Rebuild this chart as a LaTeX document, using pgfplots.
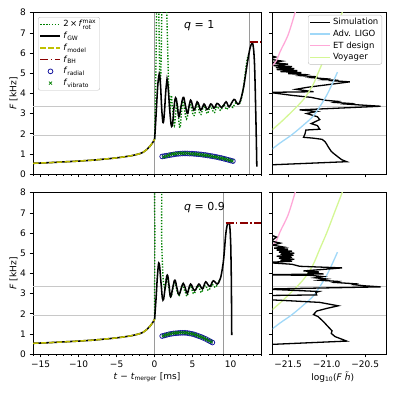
\documentclass[border=0pt]{standalone}
\usepackage{fontspec}
\setmainfont{DejaVu Sans}
\usepackage{pgfplots}
\pgfplotsset{compat=1.18}
\definecolor{fgreen}{HTML}{008000}
\definecolor{fyellow}{HTML}{BFBF00}
\definecolor{fred}{HTML}{8B0000}
\definecolor{fblue}{HTML}{1A1AA0}
\definecolor{ligo}{HTML}{A0D8F8}
\definecolor{etc}{HTML}{FFA8D8}
\definecolor{voy}{HTML}{D4F794}
\definecolor{hline}{HTML}{C8C8C8}
\definecolor{vline}{HTML}{9A9A9A}
\newcommand{\sub}[1]{$_{\mbox{\fontsize{6}{6}\selectfont #1}}$}
\pgfplotsset{
 mybase/.style={scale only axis, tick align=outside, tick pos=left,
  major tick length=3.5pt, minor tick length=2pt,
  every tick/.style={black, line width=0.6pt},
  ymin=0, ymax=8, ytick={0,...,8},
  tick label style={font=\fontsize{9}{10}\selectfont},
  axis line style={line width=0.7pt},
  legend image code/.code={\draw[mark repeat=2,mark phase=2,#1] plot coordinates {(0pt,0pt) (10pt,0pt) (20pt,0pt)};},
  legend cell align=left,
  legend style={font=\fontsize{8.5}{10}\selectfont, draw=black!25, rounded corners=2pt, inner sep=1.5pt, row sep=0.6pt, nodes={inner ysep=1.6pt}},
  every axis y label/.style={at={(axis description cs:-0.0855,0.5)},rotate=90,anchor=center,font=\fontsize{9}{10}\selectfont},
 },
 leftax/.style={mybase, width=228pt, height=161.3pt, xmin=-16, xmax=14,
  xtick={-15,-10,-5,0,5,10}, minor xtick={-16,-15,...,14},
  yticklabels={0,1,2,3,4,5,6,7,8}, ylabel={\textit{F} [kHz]}},
 rightax/.style={mybase, width=113.3pt, height=161.3pt, xmin=-21.7, xmax=-20.23,
  xtick={-21.5,-21,-20.5}, yticklabels={}},
 gdot/.style={fgreen, line width=1.4pt, dash pattern=on 1.3pt off 1.6pt},
 bl/.style={black, line width=1.55pt},
 ydash/.style={fyellow, line width=1.5pt, dash pattern=on 5.5pt off 2.4pt},
 rdd/.style={fred, line width=1.5pt, dash pattern=on 8pt off 2.4pt on 1.5pt off 2.4pt},
 sens/.style={line width=1.3pt, smooth},
}
\pgfplotstableread{
t F
-16 0.53
-14 0.56
-12 0.60
-10 0.64
-8 0.69
-6 0.76
-5 0.80
-4 0.85
-3 0.91
-2 1.00
-1.5 1.08
-1 1.22
-0.6 1.38
-0.3 1.53
0 1.72
}\inspiral
\begin{document}
\begin{tikzpicture}
\path[use as bounding box] (0,0) rectangle (395pt,395pt);
% ---------------- top left
\begin{axis}[leftax, at={(33pt,221pt)}, anchor=south west, xticklabels={},
 legend style={at={(0.022,0.973)},anchor=north west}]
\addplot[forget plot, hline, line width=1pt] coordinates {(-16,3.33) (14,3.33)};
\addplot[forget plot, hline, line width=1pt] coordinates {(-16,1.92) (14,1.92)};
\addplot[forget plot, vline, line width=0.9pt] coordinates {(0,0) (0,8)};
\addplot[forget plot, vline, line width=0.9pt] coordinates {(12.5,0) (12.5,8)};
\addplot[gdot, smooth, tension=0.7] coordinates {(0,1.72)(0.1,3.5)(0.2,6)(0.3,9)(0.45,9)(0.55,8)(0.65,5.5)(0.75,4.6)(0.85,5.5)(0.95,8)(1.05,9)(1.5,9)(1.6,8)(1.7,6.5)(1.8,5)(1.9,3.8)(2.0,3.2)(2.1,3.5)(2.2,3.9)(2.3,3.5)(2.45,2.9)(2.6,2.4)(2.75,2.9)(2.9,3.5)(3.05,3.3)(3.2,2.6)(3.35,2.3)(3.5,2.9)(3.7,3.6)(3.9,3.3)(4.1,2.8)(4.3,2.8)(4.5,3.3)(4.7,3.5)(4.9,3.2)(5.1,2.9)(5.3,3.0)(5.5,3.4)(5.7,3.4)(5.9,3.05)(6.1,2.95)(6.3,3.2)(6.5,3.4)(6.7,3.2)(6.9,3.0)(7.1,3.1)(7.3,3.35)(7.5,3.3)(7.7,3.1)(7.9,3.05)(8.1,3.3)(8.3,3.35)(8.5,3.2)(8.7,3.15)(8.9,3.3)(9.1,3.45)(9.3,3.3)(9.5,3.2)(9.7,3.35)(9.9,3.45)(10.1,3.35)(10.3,3.3)(10.5,3.45)(10.7,3.55)(10.9,3.5)(11.1,3.45)(11.3,3.6)(11.5,3.9)(11.7,4.3)(11.9,4.9)(12.1,5.5)(12.3,5.9)};
\addlegendentry{2\,×\,\textit{f}$^{\mbox{\fontsize{6}{6}\selectfont max}}_{\mbox{\fontsize{6}{6}\selectfont rot}}$}
\addplot[bl] table[x=t,y=F] {\inspiral};
\addlegendentry{\textit{f}\sub{GW}}
\addplot[bl, smooth, tension=0.8, forget plot] coordinates {(0,1.72)(0.1,2.3)(0.25,3.3)(0.4,4.3)(0.55,4.85)(0.66,4.9)(0.78,4.4)(0.9,3.5)(1.0,2.9)(1.14,2.55)(1.3,3.1)(1.45,4.0)(1.6,4.6)(1.67,4.65)(1.8,4.2)(1.95,3.4)(2.1,2.7)(2.24,2.36)(2.4,2.6)(2.55,3.3)(2.76,3.78)(2.95,3.5)(3.2,2.84)(3.45,3.3)(3.77,3.8)(4.0,3.5)(4.3,3.0)(4.5,3.3)(4.74,3.66)(4.95,3.45)(5.17,3.17)(5.4,3.35)(5.6,3.58)(5.85,3.4)(6.05,3.17)(6.3,3.3)(6.5,3.47)(6.7,3.35)(6.9,3.2)(7.15,3.3)(7.37,3.47)(7.6,3.4)(7.8,3.27)(8.0,3.35)(8.2,3.5)(8.5,3.42)(8.8,3.3)(9.1,3.42)(9.4,3.58)(9.6,3.45)(9.8,3.33)(10.1,3.5)(10.45,3.7)(10.7,3.6)(10.97,3.46)(11.25,3.6)(11.54,4.0)(11.8,4.5)(12.0,5.0)(12.2,5.5)(12.4,5.95)(12.6,6.3)(12.8,6.47)(12.95,6.4)(13.1,5.8)(13.2,4.8)(13.3,3.2)(13.38,1.8)(13.45,0.36)};
\addplot[ydash] table[x=t,y=F] {\inspiral};
\addlegendentry{\textit{f}\sub{model}}
\addplot[rdd] coordinates {(12.5,6.55) (14,6.55)};
\addlegendentry{\textit{f}\sub{BH}}
\addplot[only marks, mark=o, mark size=2.4pt, fblue, mark options={line width=0.8pt}] coordinates {(1.0,0.87)(1.3,0.89)(1.6,0.91)(1.9,0.93)(2.2,0.95)(2.5,0.97)(2.8,0.99)(3.1,1.0)(3.4,1.01)(3.7,1.02)(4.0,1.02)(4.3,1.02)(4.6,1.01)(4.9,1.01)(5.2,1.0)(5.5,0.99)(5.8,0.98)(6.1,0.97)(6.4,0.95)(6.7,0.94)(7.0,0.92)(7.3,0.9)(7.6,0.88)(7.9,0.86)(8.2,0.84)(8.5,0.81)(8.8,0.79)(9.1,0.76)(9.4,0.73)(9.7,0.7)(10.0,0.67)(10.3,0.64)};
\addlegendentry{\textit{f}\sub{radial}}
\addplot[only marks, mark=x, mark size=2.2pt, fgreen, mark options={line width=0.7pt}] coordinates {(1.2,0.85)(1.5,0.88)(1.8,0.93)(2.1,0.96)(2.4,0.99)(2.7,1.0)(3.0,1.02)(3.3,1.03)(3.6,1.03)(3.9,1.02)(4.2,1.03)(4.5,1.02)(4.8,1.0)(5.1,1.0)(5.4,0.99)(5.7,0.98)(6.0,0.96)(6.3,0.95)(6.6,0.93)(6.9,0.92)(7.2,0.9)(7.5,0.88)(7.8,0.86)(8.1,0.84)(8.4,0.82)(8.7,0.79)(9.0,0.77)(9.3,0.74)(9.6,0.71)(9.9,0.68)(10.2,0.65)};
\addlegendentry{\textit{f}\sub{vibrato}}
\node[anchor=west, font=\fontsize{11}{12}\selectfont] at (axis cs:3.42,7.38) {\textit{q} = 1};
\end{axis}
% ---------------- bottom left
\begin{axis}[leftax, at={(33pt,41pt)}, anchor=south west,
 xticklabels={−15,−10,−5,0,5,10},
 xlabel={\textit{t} − \textit{t}\sub{merger} [ms]},
 every axis x label/.style={at={(axis description cs:0.5,-0.143)},anchor=center,font=\fontsize{9}{10}\selectfont}]
\addplot[forget plot, hline, line width=1pt] coordinates {(-16,3.33) (14,3.33)};
\addplot[forget plot, hline, line width=1pt] coordinates {(-16,1.92) (14,1.92)};
\addplot[forget plot, vline, line width=0.9pt] coordinates {(0,0) (0,8)};
\addplot[forget plot, vline, line width=0.9pt] coordinates {(9.1,0) (9.1,8)};
\addplot[gdot, smooth, tension=0.7] coordinates {(0,1.72)(0.03,5.6)(0.08,9)(0.85,9)(0.92,6.0)(0.98,5.0)(1.05,4.3)(1.15,3.6)(1.3,3.3)(1.45,3.5)(1.6,3.85)(1.8,3.5)(2.0,3.0)(2.15,2.85)(2.35,3.1)(2.6,3.6)(2.85,3.3)(3.05,3.0)(3.25,2.9)(3.45,3.2)(3.7,3.45)(3.9,3.2)(4.1,3.0)(4.3,2.87)(4.5,3.2)(4.7,3.4)(4.9,3.2)(5.1,3.0)(5.3,3.05)(5.55,3.35)(5.8,3.35)(6.0,3.15)(6.2,3.05)(6.45,3.3)(6.7,3.4)(6.9,3.25)(7.1,3.15)(7.35,3.3)(7.6,3.45)(7.8,3.35)(8.0,3.3)(8.2,3.4)(8.4,3.55)(8.55,3.7)};
\addplot[bl] table[x=t,y=F] {\inspiral};
\addplot[bl, smooth, tension=0.8] coordinates {(0,1.72)(0.2,2.8)(0.4,4.0)(0.6,4.49)(0.85,3.5)(1.1,2.67)(1.4,3.3)(1.67,3.91)(1.9,3.4)(2.1,2.84)(2.4,3.3)(2.67,3.66)(2.95,3.25)(3.2,2.95)(3.5,3.25)(3.77,3.5)(4.05,3.25)(4.3,3.0)(4.5,3.25)(4.74,3.47)(5.0,3.3)(5.26,3.14)(5.55,3.3)(5.83,3.47)(6.05,3.35)(6.3,3.23)(6.5,3.4)(6.73,3.58)(7.0,3.45)(7.3,3.35)(7.5,3.5)(7.72,3.63)(8.0,3.55)(8.25,3.47)(8.5,3.6)(8.7,3.8)(8.9,4.2)(9.04,4.55)(9.2,5.2)(9.34,5.85)(9.5,6.3)(9.65,6.5)(9.8,6.45)(9.9,6.3)(10.0,5.6)(10.05,4.8)(10.1,3.5)(10.13,2.0)(10.15,0.94)};
\addplot[ydash] table[x=t,y=F] {\inspiral};
\addplot[rdd] coordinates {(9.34,6.5) (14,6.5)};
\addplot[only marks, mark=o, mark size=2.4pt, fblue, mark options={line width=0.8pt}] coordinates {(1.0,0.89)(1.3,0.92)(1.6,0.95)(1.9,0.98)(2.2,1.0)(2.5,1.02)(2.8,1.03)(3.1,1.04)(3.4,1.05)(3.7,1.05)(4.0,1.05)(4.3,1.04)(4.6,1.02)(4.9,1.0)(5.2,0.97)(5.5,0.93)(5.8,0.89)(6.1,0.85)(6.4,0.8)(6.7,0.75)(7.0,0.69)(7.3,0.63)(7.6,0.57)};
\addplot[only marks, mark=x, mark size=2.2pt, fgreen, mark options={line width=0.7pt}] coordinates {(1.15,0.9)(1.45,0.94)(1.75,0.97)(2.05,1.0)(2.35,1.02)(2.65,1.04)(2.95,1.05)(3.25,1.06)(3.55,1.06)(3.85,1.06)(4.15,1.05)(4.45,1.03)(4.75,1.01)(5.05,0.99)(5.35,0.95)(5.65,0.91)(5.95,0.87)(6.25,0.83)(6.55,0.78)(6.85,0.72)(7.15,0.66)(7.45,0.6)};
\node[anchor=west, font=\fontsize{11}{12}\selectfont] at (axis cs:3.42,7.28) {\textit{q} = 0.9};
\end{axis}
% ---------------- top right
\begin{axis}[rightax, at={(272.7pt,221pt)}, anchor=south west, xticklabels={},
 legend style={at={(0.965,0.986)},anchor=north east}]
\addplot[forget plot, hline, line width=1pt] coordinates {(-21.7,3.33) (-20.23,3.33)};
\addplot[forget plot, hline, line width=1pt] coordinates {(-21.7,1.92) (-20.23,1.92)};
\addplot[black, line width=1.3pt] coordinates {(-21.75,0.45)(-20.74,0.61)(-20.80,0.7)(-20.83,0.78)(-20.87,0.9)(-20.91,1.02)(-20.94,1.12)(-20.98,1.35)(-21.0,1.48)(-21.02,1.6)(-21.06,1.72)(-21.18,1.78)(-21.30,1.82)(-21.28,2.0)(-21.27,2.18)(-21.09,2.22)(-21.12,2.4)(-21.20,2.5)(-21.09,2.7)(-21.12,2.84)(-21.26,3.0)(-21.13,3.1)(-21.35,3.18)(-20.30,3.36)(-20.55,3.42)(-20.75,3.47)(-20.7,3.5)(-20.9,3.55)(-20.85,3.6)(-21.0,3.65)(-21.1,3.72)(-21.2,3.8)(-21.45,3.9)(-21.75,4.05)(-21.17,4.08)(-21.4,4.2)(-21.25,4.3)(-20.70,4.57)(-20.9,4.62)(-20.85,4.65)(-21.05,4.68)(-21.0,4.72)(-21.2,4.78)(-21.12,4.82)(-21.35,4.88)(-21.28,4.93)(-21.5,4.98)(-21.33,5.03)(-21.6,5.08)(-21.38,5.13)(-21.65,5.18)(-21.42,5.23)(-21.66,5.28)(-21.45,5.33)(-21.7,5.38)(-21.5,5.45)(-21.72,5.52)(-21.58,5.6)(-21.75,5.7)(-21.66,5.8)(-21.75,5.9)};
\addlegendentry{Simulation}
\addplot[ligo, sens] coordinates {(-21.72,1.2)(-21.6,1.55)(-21.45,1.95)(-21.30,2.43)(-21.18,2.85)(-21.09,3.33)(-21.0,3.9)(-20.93,4.45)(-20.86,5.05)};
\addlegendentry{Adv. LIGO}
\addplot[etc, sens] coordinates {(-21.72,5.3)(-21.65,5.64)(-21.6,6.1)(-21.5,6.9)(-21.41,8.0)(-21.38,8.4)};
\addlegendentry{ET design}
\addplot[voy, sens] coordinates {(-21.72,2.15)(-21.6,2.55)(-21.45,3.1)(-21.3,3.7)(-21.18,4.4)(-21.09,5.2)(-21.0,6.0)(-20.9,7.0)(-20.8,8.0)(-20.77,8.4)};
\addlegendentry{Voyager}
\end{axis}
% ---------------- bottom right
\begin{axis}[rightax, at={(272.7pt,41pt)}, anchor=south west,
 xticklabels={−21.5,−21.0,−20.5},
 xlabel={log\sub{10}(\textit{F} \textit{h̃})},
 every axis x label/.style={at={(axis description cs:0.53,-0.143)},anchor=center,font=\fontsize{9}{10}\selectfont}]
\addplot[forget plot, hline, line width=1pt] coordinates {(-21.7,3.33) (-20.23,3.33)};
\addplot[forget plot, hline, line width=1pt] coordinates {(-21.7,1.92) (-20.23,1.92)};
\addplot[ligo, sens] coordinates {(-21.72,1.2)(-21.6,1.55)(-21.45,1.95)(-21.30,2.43)(-21.18,2.85)(-21.09,3.33)(-21.0,3.9)(-20.93,4.45)(-20.86,5.05)};
\addplot[etc, sens] coordinates {(-21.72,5.3)(-21.65,5.64)(-21.6,6.1)(-21.5,6.9)(-21.41,8.0)(-21.38,8.4)};
\addplot[voy, sens] coordinates {(-21.72,2.15)(-21.6,2.55)(-21.45,3.1)(-21.3,3.7)(-21.18,4.4)(-21.09,5.2)(-21.0,6.0)(-20.9,7.0)(-20.8,8.0)(-20.77,8.4)};
\addplot[black, line width=1.3pt] coordinates {(-21.75,0.47)(-20.74,0.64)(-20.80,0.73)(-20.89,0.86)(-20.94,1.02)(-20.93,1.15)(-20.98,1.35)(-21.04,1.6)(-21.11,1.85)(-21.17,1.96)(-21.13,2.13)(-21.0,2.26)(-20.85,2.39)(-21.09,2.56)(-21.48,2.64)(-21.8,2.7)(-21.8,2.9)(-21.13,2.93)(-21.14,3.05)(-21.10,3.1)(-21.8,3.22)(-20.30,3.33)(-20.5,3.38)(-20.65,3.44)(-20.62,3.48)(-20.9,3.55)(-20.85,3.6)(-21.1,3.66)(-21.0,3.72)(-21.15,3.78)(-21.05,3.84)(-21.2,3.9)(-21.8,3.93)(-21.04,3.97)(-21.25,4.02)(-21.1,4.07)(-21.3,4.12)(-20.80,4.27)(-21.35,4.35)(-21.45,4.45)(-21.8,4.54)(-21.45,4.6)(-21.6,4.65)(-21.42,4.7)(-21.62,4.75)(-21.45,4.8)(-21.65,4.85)(-21.43,4.9)(-21.6,4.95)(-21.42,5.0)(-21.62,5.05)(-21.45,5.1)(-21.65,5.15)(-21.5,5.2)(-21.68,5.25)(-21.55,5.3)(-21.7,5.4)(-21.6,5.5)(-21.72,5.6)(-21.65,5.8)(-21.8,6.0)};
\end{axis}
\end{tikzpicture}
\end{document}
